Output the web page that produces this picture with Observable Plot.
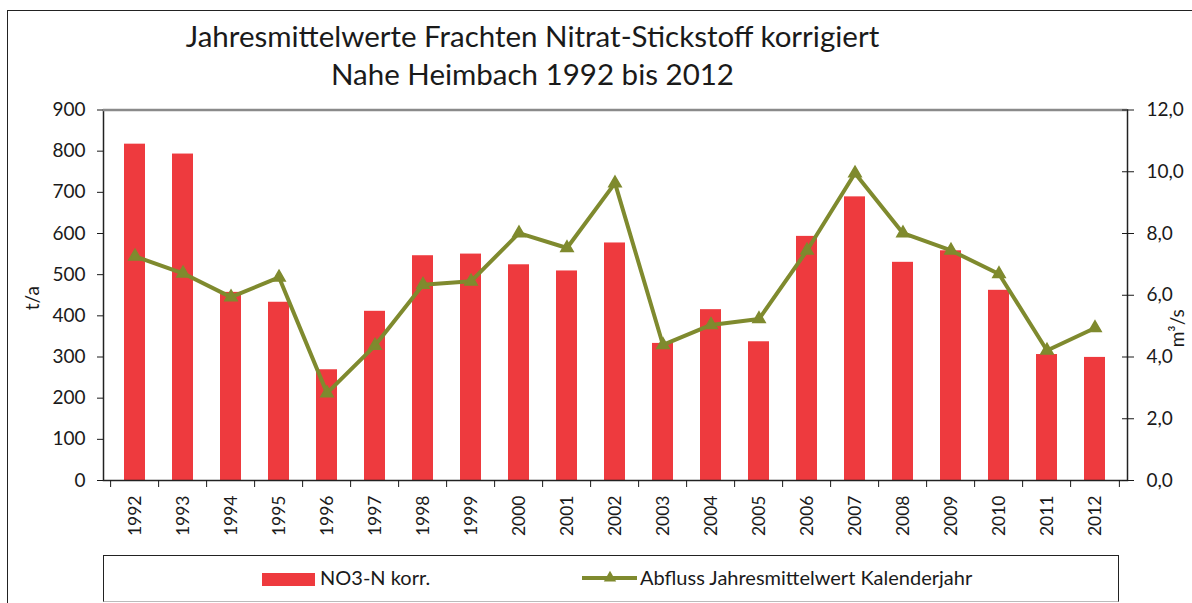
<!DOCTYPE html>
<html><head><meta charset="utf-8">
<script src="https://cdn.jsdelivr.net/npm/d3@7"></script>
<script src="https://cdn.jsdelivr.net/npm/@observablehq/plot@0.6"></script>
<style>
html,body{margin:0;padding:0;background:#fff;}
#wrap{position:relative;width:1192px;height:603px;overflow:hidden;font-family:Lato,"Open Sans",sans-serif;color:#1a1a1a;}
#border{position:absolute;left:7px;top:10px;width:1200px;height:600px;border-left:1.5px solid #222;border-top:1.5px solid #222;}
#title{position:absolute;left:0;width:1065px;top:17px;text-align:center;font-size:29.5px;line-height:38px;white-space:nowrap;}
#chart{position:absolute;left:0;top:95px;}
#legend{position:absolute;left:103px;top:555px;width:1014px;height:45px;border:1.5px solid #222;border-bottom-color:#bbb;}
.lg{position:absolute;font-size:20px;line-height:20px;top:567px;white-space:nowrap;}
</style></head>
<body>
<div id="wrap">
  <div id="border"></div>
  <div id="title">Jahresmittelwerte Frachten Nitrat-Stickstoff korrigiert<br>Nahe Heimbach 1992 bis 2012</div>
  <div id="chart"></div>
  <div id="legend"></div>
  <div id="sw1" style="position:absolute;left:262px;top:573px;width:53px;height:13px;"></div>
  <div class="lg" style="left:320px;">NO3-N korr.</div>
  <svg id="sw2" style="position:absolute;left:580px;top:570px;" width="60" height="16"></svg>
  <div class="lg" style="left:640px;">Abfluss Jahresmittelwert Kalenderjahr</div>
</div>
<script>
const years = ["1992","1993","1994","1995","1996","1997","1998","1999","2000","2001","2002","2003","2004","2005","2006","2007","2008","2009","2010","2011","2012"];
const no3 = [817, 793, 457, 433, 269, 411, 546, 550, 524, 509, 577, 333, 415, 337, 593, 689, 530, 558, 462, 306, 299];
const flow = [7.26, 6.71, 5.94, 6.58, 2.83, 4.37, 6.34, 6.45, 8.01, 7.53, 9.63, 4.39, 5.04, 5.23, 7.45, 9.95, 8.01, 7.45, 6.69, 4.21, 4.94];
const leftTicks = [0, 100, 200, 300, 400, 500, 600, 700, 800, 900];
const rightTicks = [0, 2, 4, 6, 8, 10, 12];
const leftLabel = "t/a";
const rightLabel = "m³/s";

const red = "#EE3A3E", olive = "#7F8A2E";
const W = 1192, H = 450, mL = 103, mR = 65, mT = 14.5, mB = 65;
const step = (W - mL - mR) / years.length;
const k = 900 / 12;
const data = years.map((y, i) => ({year: y, no3: no3[i], flow: flow[i]}));
const fmtR = d => (d / k).toFixed(1).replace(".", ",");

const chart = Plot.plot({
  width: W, height: H,
  marginLeft: mL, marginRight: mR, marginTop: mT, marginBottom: mB,
  style: {fontFamily: "Lato, sans-serif", fontSize: "19px", color: "#1a1a1a", background: "transparent", overflow: "visible"},
  x: {domain: years, paddingInner: 0.555, paddingOuter: 0.2775, axis: null},
  y: {domain: [0, 900], axis: null},
  marks: [
    Plot.barY(data, {x: "year", y: "no3", fill: red}),
    Plot.line(data, {x: "year", y: d => d.flow * k, stroke: olive, strokeWidth: 4}),
    Plot.dot(data, {x: "year", y: d => d.flow * k, symbol: "triangle", r: 4.6, fill: olive, stroke: olive, strokeWidth: 1.5}),
    Plot.frame({stroke: "#222", strokeWidth: 1.5}),
    Plot.ruleY([900], {stroke: "#8a8a8a", strokeWidth: 2.5}),
    Plot.axisY({ticks: leftTicks, tickSize: 6, tickPadding: 12, tickFormat: d => String(d), label: null, fontSize: 19}),
    Plot.axisY({anchor: "right", ticks: rightTicks.map(v => v * k), tickSize: 12, dx: -6, tickFormat: () => "", label: null}),
    Plot.axisY({anchor: "right", ticks: rightTicks.map(v => v * k), tickSize: 0, tickPadding: 19, tickFormat: fmtR, label: null, fontSize: 19}),
    Plot.axisX({ticks: years, tickSize: 7, dx: -step / 2, tickFormat: () => "", label: null}),
    Plot.axisX({ticks: [years[years.length - 1]], tickSize: 7, dx: step / 2, tickFormat: () => "", label: null}),
    Plot.axisX({ticks: years, tickSize: 0, tickPadding: 15, tickRotate: -90, label: null, fontSize: 17.5}),
    Plot.text([leftLabel], {frameAnchor: "left", dx: -71, dy: 15, rotate: -90, fontSize: 19, fill: "#1a1a1a"}),
    Plot.text([rightLabel], {frameAnchor: "right", dx: 50, dy: 14, rotate: -90, fontSize: 19, fill: "#1a1a1a"})
  ]
});
document.getElementById("chart").appendChild(chart);
document.getElementById("sw1").style.background = red;
const sw2 = d3.select("#sw2");
sw2.append("line").attr("x1", 2).attr("x2", 57).attr("y1", 8).attr("y2", 8).attr("stroke", olive).attr("stroke-width", 4);
sw2.append("path").attr("d", d3.symbol(d3.symbolTriangle, 66)()).attr("transform", "translate(30,8)").attr("fill", olive);
</script>
</body></html>
